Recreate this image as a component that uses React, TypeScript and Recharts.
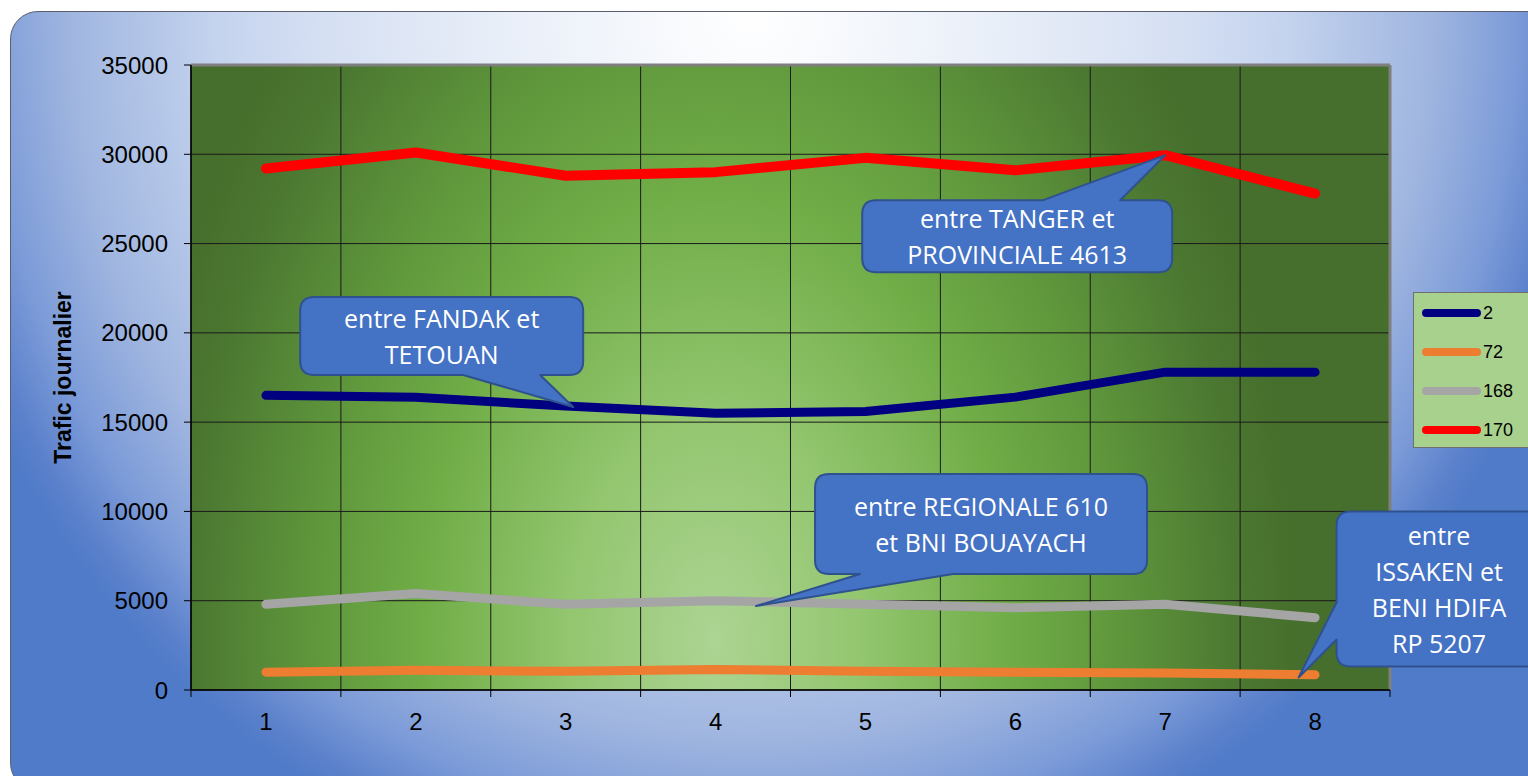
import React from 'react';
import {
  LineChart,
  Line,
  XAxis,
  YAxis,
  CartesianGrid,
  Legend,
  ReferenceDot,
  ReferenceLine,
  Label,
} from 'recharts';

// ---- data ----
const sections = [1, 2, 3, 4, 5, 6, 7, 8];
const route2 = [16500, 16400, 15900, 15500, 15600, 16400, 17800, 17800];
const route72 = [1000, 1100, 1050, 1150, 1050, 1000, 950, 850];
const route168 = [4800, 5400, 4800, 5000, 4800, 4600, 4800, 4050];
const route170 = [29200, 30100, 28800, 29000, 29800, 29100, 29950, 27800];
const yTicks = [0, 5000, 10000, 15000, 20000, 25000, 30000, 35000];
const bandEdges = [0.5, 1.5, 2.5, 3.5, 4.5, 5.5, 6.5, 7.5, 8.5];
const xTicks = [0.5, 1, 1.5, 2, 2.5, 3, 3.5, 4, 4.5, 5, 5.5, 6, 6.5, 7, 7.5, 8, 8.5];

const seriesNames = ['2', '72', '168', '170'];
const seriesKeys = ['r2', 'r72', 'r168', 'r170'];
const seriesColors = ['#000080', '#ED7D31', '#A5A5A5', '#FF0000'];

const data = sections.map((s, i) => ({
  section: s,
  r2: route2[i],
  r72: route72[i],
  r168: route168[i],
  r170: route170[i],
}));

// callout anchors (tip positions in data units)
const calloutTexts = [
  ['entre TANGER et', 'PROVINCIALE 4613'],
  ['entre FANDAK et', 'TETOUAN'],
  ['entre REGIONALE 610', 'et BNI BOUAYACH'],
  ['entre', 'ISSAKEN et', 'BENI HDIFA', 'RP 5207'],
];
const calloutX = [7, 3.05, 4.27, 7.89];
const calloutY = [29950, 15850, 4700, 700];

// layout of callout boxes relative to tip
const calloutLayout = [
  { dx: -303, dy: 45, w: 310, h: 72, edge: 'top', a: -122, b: -45 },
  { dx: -273, dy: -110, w: 283, h: 78, edge: 'bottom', a: -110, b: -33 },
  { dx: 59, dy: -132, w: 332, h: 100, edge: 'bottom', a: 104, b: 197 },
  { dx: 38, dy: -166, w: 205, h: 155, edge: 'left', a: -75, b: -38 },
];

const FONT = '"Liberation Sans", Arial, sans-serif';
const CALLOUT_FONT = '"Open Sans", "Noto Sans", sans-serif';

function calloutPath(cx: number, cy: number, L: any) {
  const x = cx + L.dx;
  const y = cy + L.dy;
  const w = L.w;
  const h = L.h;
  const r = 14;
  let d = `M ${x + r} ${y}`;
  if (L.edge === 'top') {
    d += ` L ${cx + L.a} ${y} L ${cx} ${cy} L ${cx + L.b} ${y}`;
  }
  d += ` L ${x + w - r} ${y} Q ${x + w} ${y} ${x + w} ${y + r}`;
  d += ` L ${x + w} ${y + h - r} Q ${x + w} ${y + h} ${x + w - r} ${y + h}`;
  if (L.edge === 'bottom') {
    d += ` L ${cx + L.b} ${y + h} L ${cx} ${cy} L ${cx + L.a} ${y + h}`;
  }
  d += ` L ${x + r} ${y + h} Q ${x} ${y + h} ${x} ${y + h - r}`;
  if (L.edge === 'left') {
    d += ` L ${x} ${cy + L.b} L ${cx} ${cy} L ${x} ${cy + L.a}`;
  }
  d += ` L ${x} ${y + r} Q ${x} ${y} ${x + r} ${y} Z`;
  return d;
}

function makeCallout(idx: number) {
  return (props: any) => {
    const { cx, cy } = props;
    if (cx == null || cy == null) return <g />;
    const L = calloutLayout[idx];
    const lines = calloutTexts[idx];
    const boxCx = cx + L.dx + L.w / 2;
    const boxCy = cy + L.dy + L.h / 2;
    const lh = 36;
    return (
      <g>
        <path d={calloutPath(cx, cy, L)} fill="#4472C4" stroke="#2F528F" strokeWidth={2} strokeLinejoin="round" />
        {lines.map((t, i) => (
          <text
            key={i}
            x={boxCx}
            y={boxCy + (i - (lines.length - 1) / 2) * lh}
            textAnchor="middle"
            dominantBaseline="central"
            fill="#ffffff"
            fontSize={25}
            fontFamily={CALLOUT_FONT}
          >
            {t}
          </text>
        ))}
      </g>
    );
  };
}

const XTick = (props: any) => {
  const { x, y, payload } = props;
  const v = payload.value;
  if (Number.isInteger(v)) {
    return (
      <text x={x} y={y} dy="0.71em" textAnchor="middle" fill="#000" fontSize={24} fontFamily={FONT}>
        {v}
      </text>
    );
  }
  const axisY = y - 23;
  return <line x1={x} x2={x} y1={axisY} y2={axisY + 7} stroke="#000" strokeWidth={1} />;
};

const YLabel = (props: any) => {
  const vb = props.viewBox || { x: 0, y: 65, width: 191, height: 625 };
  const cx = vb.x + 63;
  const cy = vb.y + vb.height / 2;
  return (
    <text
      x={cx}
      y={cy}
      transform={`rotate(-90 ${cx} ${cy})`}
      textAnchor="middle"
      dominantBaseline="central"
      fill="#000"
      fontSize={23}
      fontWeight="bold"
      fontFamily={FONT}
    >
      Trafic journalier
    </text>
  );
};

const LegendBox = () => (
  <div
    style={{
      width: 140,
      height: 156,
      background: '#A9D18E',
      border: '1px solid #6f6f6f',
      boxSizing: 'border-box',
      position: 'relative',
    }}
  >
    {seriesNames.map((n, i) => (
      <div
        key={n}
        style={{ position: 'absolute', left: 8, top: 9 + i * 39, height: 22, display: 'flex', alignItems: 'center' }}
      >
        <div style={{ width: 59, height: 8, borderRadius: 4, background: seriesColors[i] }} />
        <span style={{ fontFamily: FONT, fontSize: 18, color: '#000', marginLeft: 2 }}>{n}</span>
      </div>
    ))}
  </div>
);

const verticalGen = (args: any) => {
  const xAxis = args && args.xAxis;
  if (xAxis && typeof xAxis.scale === 'function') {
    return bandEdges.map((v) => xAxis.scale(v));
  }
  const off = args.offset;
  return bandEdges.map((v) => off.left + ((v - 0.5) / 8) * off.width);
};

export default function App() {
  return (
    <div style={{ position: 'absolute', left: 0, top: 0, width: 1528, height: 776, overflow: 'hidden', background: '#fff' }}>
      <div
        style={{
          position: 'absolute',
          left: 10,
          top: 11,
          width: 1545,
          height: 780,
          borderRadius: 28,
          border: '1px solid #5a5f6e',
          boxSizing: 'border-box',
          background:
            'radial-gradient(850px 905px at 740px 0px, #ffffff 0%, #e8eef8 30%, #d6e0f3 50%, #c4d3ee 63%, #a0b6e0 80%, #7c9bd8 90%, #5a80cb 97%, #4f7bc8 100%)',
        }}
      />
      <div style={{ position: 'absolute', left: 0, top: 0 }}>
        <LineChart width={1528} height={776} data={data} margin={{ top: 65, right: 138, bottom: 56, left: 0 }}>
          <defs>
            <radialGradient
              id="plotGreen"
              gradientUnits="userSpaceOnUse"
              cx={715}
              cy={640}
              r={900}
              gradientTransform="translate(715 640) scale(0.65 1) translate(-715 -640)"
            >
              <stop offset="0" stopColor="#acd493" />
              <stop offset="0.25" stopColor="#93c66f" />
              <stop offset="0.5" stopColor="#70ad47" />
              <stop offset="0.7" stopColor="#5e953b" />
              <stop offset="0.9" stopColor="#4b7731" />
              <stop offset="1" stopColor="#466e2c" />
            </radialGradient>
          </defs>
          <CartesianGrid
            fill="url(#plotGreen)"
            fillOpacity={1}
            stroke="#1a1a1a"
            strokeWidth={1}
            verticalCoordinatesGenerator={verticalGen}
          />
          <ReferenceLine y={35000} stroke="#7f7f7f" strokeWidth={3} />
          <ReferenceLine x={8.5} stroke="#7f7f7f" strokeWidth={3} />
          <XAxis
            dataKey="section"
            type="number"
            domain={[0.5, 8.5]}
            ticks={xTicks}
            interval={0}
            tickLine={false}
            tickSize={7}
            tickMargin={16}
            tick={<XTick />}
            axisLine={{ stroke: '#000', strokeWidth: 1.5 }}
            height={30}
          />
          <YAxis
            domain={[0, 35000]}
            ticks={yTicks}
            interval={0}
            width={191}
            tickSize={7}
            tickMargin={16}
            axisLine={{ stroke: '#000', strokeWidth: 1.5 }}
            tickLine={{ stroke: '#000' }}
            tick={{ fill: '#000', fontSize: 24, fontFamily: FONT }}
          >
            <Label content={<YLabel />} />
          </YAxis>
          {seriesKeys.map((k, i) => (
            <Line
              key={k}
              type="linear"
              dataKey={k}
              name={seriesNames[i]}
              stroke={seriesColors[i]}
              strokeWidth={i === 3 ? 10 : 9}
              strokeLinecap="round"
              strokeLinejoin="round"
              dot={false}
              activeDot={false}
              isAnimationActive={false}
            />
          ))}
          {calloutX.map((cx, i) => (
            <ReferenceDot key={i} x={cx} y={calloutY[i]} r={0} shape={makeCallout(i)} />
          ))}
          <Legend
            layout="vertical"
            align="center"
            verticalAlign="middle"
            content={<LegendBox />}
            wrapperStyle={{ position: 'absolute', left: 1413, top: 292, width: 140, height: 156 }}
          />
        </LineChart>
      </div>
    </div>
  );
}
